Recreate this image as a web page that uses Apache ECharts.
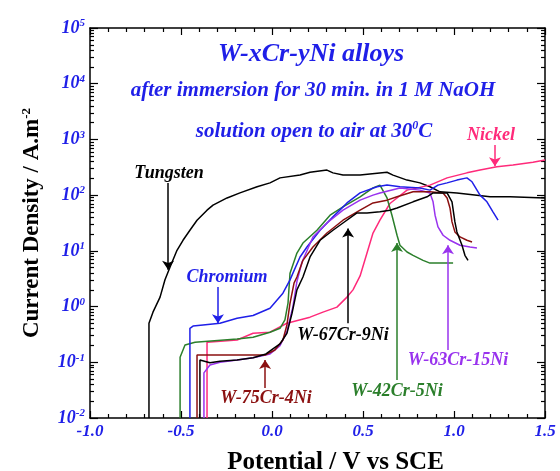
<!DOCTYPE html>
<html><head><meta charset="utf-8">
<script src="https://cdn.jsdelivr.net/npm/echarts@6/dist/echarts.min.js"></script>
<style>html,body{margin:0;padding:0;background:#fff;overflow:hidden}#c{width:560px;height:471px}</style>
</head><body><div id="c"></div>
<script>
// ---- data (potential in V vs SCE, current density as log10 of A.m^-2) ----
const tungstenV   = [-0.676,-0.676,-0.654,-0.615,-0.588,-0.560,-0.522,-0.489,-0.451,-0.412,-0.357,-0.324,-0.247,-0.176,-0.082,-0.011,0.044,0.154,0.209,0.302,0.335,0.390,0.484,0.632,0.665,0.742,0.813,0.868,0.923,1.016,1.126,1.198,1.308,1.500];
const tungstenLog = [-2,-0.30,-0.10,0.17,0.48,0.71,1.01,1.19,1.37,1.55,1.73,1.82,1.95,2.04,2.15,2.22,2.31,2.36,2.41,2.45,2.40,2.36,2.36,2.41,2.36,2.27,2.22,2.15,2.06,2.04,2.00,1.97,1.97,1.95];

const chromiumV   = [-0.451,-0.451,-0.434,-0.379,-0.286,-0.192,-0.104,-0.011,0.060,0.099,0.115,0.154,0.192,0.264,0.335,0.412,0.484,0.577,0.632,0.703,0.813,0.868,0.912,0.962,1.016,1.071,1.099,1.143,1.181,1.214,1.242];
const chromiumLog = [-2,-0.39,-0.35,-0.33,-0.30,-0.21,-0.16,-0.03,0.24,0.48,0.60,0.89,1.07,1.37,1.61,1.86,2.04,2.15,2.18,2.15,2.13,2.09,2.18,2.22,2.27,2.31,2.24,2.00,1.88,1.70,1.55];

const nickelV   = [-0.357,-0.357,-0.192,-0.104,-0.011,0.082,0.209,0.280,0.357,0.412,0.445,0.484,0.522,0.555,0.593,0.648,0.742,0.868,0.962,1.071,1.143,1.236,1.324,1.434,1.500];
const nickelLog = [-2,-0.64,-0.60,-0.48,-0.46,-0.30,-0.19,-0.10,-0.01,0.17,0.30,0.55,0.96,1.32,1.55,1.85,2.09,2.18,2.31,2.40,2.45,2.51,2.54,2.59,2.63];

const w42V   = [-0.505,-0.505,-0.478,-0.423,-0.192,-0.104,-0.011,0.044,0.071,0.088,0.099,0.137,0.170,0.247,0.319,0.390,0.484,0.555,0.593,0.632,0.659,0.687,0.703,0.742,0.775,0.830,0.868,0.995];
const w42Log = [-2,-0.91,-0.69,-0.64,-0.58,-0.55,-0.46,-0.39,-0.24,0.06,0.60,0.96,1.14,1.37,1.64,1.79,1.97,2.13,2.18,1.95,1.64,1.28,1.10,0.98,0.92,0.83,0.78,0.78];

const w63V   = [-0.374,-0.374,-0.341,-0.286,-0.192,-0.104,-0.011,0.044,0.082,0.115,0.137,0.165,0.225,0.302,0.390,0.484,0.555,0.593,0.703,0.813,0.868,0.885,0.896,0.912,0.940,0.978,1.033,1.088,1.126];
const w63Log = [-2,-1.19,-1.05,-1.00,-0.96,-0.92,-0.85,-0.70,-0.45,0.00,0.45,0.80,1.25,1.50,1.73,1.91,2.00,2.04,2.13,2.09,2.04,1.88,1.64,1.43,1.28,1.19,1.10,1.07,1.05];

const w75V   = [-0.412,-0.412,-0.038,0.016,0.060,0.082,0.099,0.121,0.137,0.170,0.225,0.302,0.390,0.484,0.555,0.632,0.687,0.775,0.868,0.940,0.962,0.978,0.989,1.005,1.033,1.071,1.099];
const w75Log = [-2,-0.87,-0.87,-0.78,-0.60,-0.33,0.06,0.42,0.53,0.83,1.07,1.32,1.55,1.73,1.86,1.91,1.97,2.06,2.06,2.04,1.95,1.77,1.52,1.34,1.25,1.19,1.16];

const w67V   = [-0.396,-0.396,-0.341,-0.286,-0.192,-0.104,-0.033,0.005,0.044,0.082,0.110,0.137,0.170,0.209,0.264,0.335,0.390,0.467,0.522,0.593,0.648,0.687,0.775,0.852,0.885,0.962,0.989,1.005,1.016,1.044,1.060,1.077];
const w67Log = [-2,-0.96,-1.01,-0.98,-0.96,-0.92,-0.85,-0.76,-0.67,-0.48,-0.12,0.30,0.53,0.89,1.19,1.37,1.50,1.68,1.68,1.70,1.73,1.77,1.88,1.97,2.04,2.04,1.88,1.52,1.34,1.10,0.92,0.83];

// curve labels: [text x (V), text log10 I, arrow x (V), arrow start log10 I, arrow end log10 I]
const labelTungsten = [-0.566, 2.40, -0.571, 2.22, 0.66];
const labelChromium = [-0.247, 0.53, -0.297, 0.35, -0.30];
const labelNickel   = [1.203, 3.08, 1.225, 2.90, 2.52];
const labelW67      = [0.390, -0.51, 0.418, -0.30, 1.40];
const labelW42      = [0.687, -1.53, 0.687, -1.32, 1.14];
const labelW63      = [1.022, -0.96, 0.967, -0.78, 1.10];
const labelW75      = [-0.033, -1.64, -0.038, -1.46, -0.96];

const xTickLabels = ['-1.0','-0.5','0.0','0.5','1.0','1.5'];
const yExponents  = [-2,-1,0,1,2,3,4,5];

// ---- build ----
const SERIF = '"Liberation Serif","Times New Roman",serif';
const BLUE = '#1f1fe8';
const pairs = (v, l) => v.map((x, i) => [x, Math.pow(10, l[i])]);

function curve(name, v, l, color, lab) {
  return {
    name, type: 'line', data: pairs(v, l), showSymbol: false, symbol: 'none',
    lineStyle: { color, width: 1.5 }, itemStyle: { color }, animation: false, silent: true,
    markLine: {
      silent: true, symbol: ['none', 'arrow'], symbolSize: 9, animation: false,
      label: { show: false },
      lineStyle: { color, width: 1.5, type: 'solid' },
      itemStyle: { color },
      data: [[{ coord: [lab[2], Math.pow(10, lab[3])] }, { coord: [lab[2], Math.pow(10, lab[4])] }]]
    },
    markPoint: {
      silent: true, symbol: 'circle', symbolSize: 0, animation: false,
      label: { show: true, position: 'inside', formatter: name, color,
        fontFamily: SERIF, fontStyle: 'italic', fontWeight: 'bold', fontSize: 18 },
      data: [{ coord: [lab[0], Math.pow(10, lab[1])] }]
    }
  };
}

const minorVals = [];
yExponents.slice(0, -1).forEach(e => { for (let k = 2; k <= 9; k++) minorVals.push(k * Math.pow(10, e)); });
const majorVals = yExponents.map(e => Math.pow(10, e));

const axisLineStyle = { show: true, onZero: false, lineStyle: { color: '#000', width: 1.5 } };
function yAx(pos, minor, labels) {
  return {
    type: 'log', logBase: 10, min: 0.01, max: 100000, position: pos,
    axisLine: minor ? { show: false, onZero: false } : axisLineStyle,
    splitLine: { show: false },
    axisTick: { show: true, inside: true, length: minor ? 4 : 8, lineStyle: { color: '#000', width: 1.2 },
      customValues: minor ? minorVals : majorVals },
    axisLabel: labels ? {
      show: true, customValues: majorVals, margin: 5,
      formatter: v => '{b|10}{s|' + Math.round(Math.log10(v)) + '}',
      rich: {
        b: { fontFamily: SERIF, fontStyle: 'italic', fontWeight: 'bold', fontSize: 18, color: BLUE, lineHeight: 20 },
        s: { fontFamily: SERIF, fontStyle: 'italic', fontWeight: 'bold', fontSize: 11, color: BLUE, verticalAlign: 'top', padding: [0, 0, 9, 0] }
      }
    } : { show: false },
    name: labels ? 'Current Density / A.m{s|-2}' : '',
    nameLocation: 'middle', nameGap: 45, nameRotate: 90,
    nameTextStyle: {
      fontFamily: SERIF, fontWeight: 'bold', fontSize: 23, color: '#000',
      rich: { s: { fontFamily: SERIF, fontWeight: 'bold', fontSize: 13, color: '#000', padding: [0, 0, 12, 0] } }
    }
  };
}
function xAx(pos, labels) {
  return {
    type: 'value', min: -1, max: 1.5, interval: 0.5, position: pos,
    axisLine: axisLineStyle, splitLine: { show: false },
    axisTick: { show: true, inside: true, length: 7, lineStyle: { color: '#000', width: 1.2 } },
    minorTick: { show: true, splitNumber: 5, length: 4, lineStyle: { color: '#000', width: 1.2 } },
    minorSplitLine: { show: false },
    axisLabel: labels ? {
      show: true, margin: 5, color: BLUE, fontFamily: SERIF, fontStyle: 'italic', fontWeight: 'bold', fontSize: 17,
      formatter: v => xTickLabels[Math.round((v + 1) / 0.5)]
    } : { show: false },
    name: labels ? 'Potential / V vs SCE' : '',
    nameLocation: 'middle', nameGap: 32,
    nameTextStyle: { fontFamily: SERIF, fontWeight: 'bold', fontSize: 25, color: '#000', padding: [0, 0, 0, 36] }
  };
}

const chart = echarts.init(document.getElementById('c'), null, { renderer: 'canvas' });
chart.setOption({
  animation: false,
  backgroundColor: '#fff',
  grid: { left: 90, right: 15, top: 28, bottom: 53, containLabel: false, outerBoundsMode: 'none' },
  xAxis: [xAx('bottom', true), xAx('top', false)],
  yAxis: [yAx('left', false, true), yAx('left', true, false), yAx('right', false, false), yAx('right', true, false)],
  graphic: [
    { type: 'text', silent: true, style: { text: 'W-xCr-yNi alloys', x: 311, y: 54, align: 'center', verticalAlign: 'middle',
      font: 'italic bold 26px ' + SERIF, fill: BLUE } },
    { type: 'text', silent: true, style: { text: 'after immersion for 30 min. in 1 M NaOH', x: 313, y: 91, align: 'center', verticalAlign: 'middle',
      font: 'italic bold 21px ' + SERIF, fill: BLUE } },
    { type: 'text', silent: true, style: { text: 'solution open to air at 30{s|0}C', x: 314, y: 132, align: 'center', verticalAlign: 'middle',
      font: 'italic bold 21px ' + SERIF, fill: BLUE,
      rich: { s: { font: 'italic bold 12px ' + SERIF, fill: BLUE, padding: [0, 0, 12, 0] } } } }
  ],
  series: [
    curve('Tungsten', tungstenV, tungstenLog, '#000000', labelTungsten),
    curve('Nickel', nickelV, nickelLog, '#ff2a7a', labelNickel),
    curve('W-42Cr-5Ni', w42V, w42Log, '#2b7f2b', labelW42),
    curve('Chromium', chromiumV, chromiumLog, '#1f1fe8', labelChromium),
    curve('W-63Cr-15Ni', w63V, w63Log, '#9933ee', labelW63),
    curve('W-75Cr-4Ni', w75V, w75Log, '#8b1010', labelW75),
    curve('W-67Cr-9Ni', w67V, w67Log, '#000000', labelW67)
  ]
});
</script></body></html>
